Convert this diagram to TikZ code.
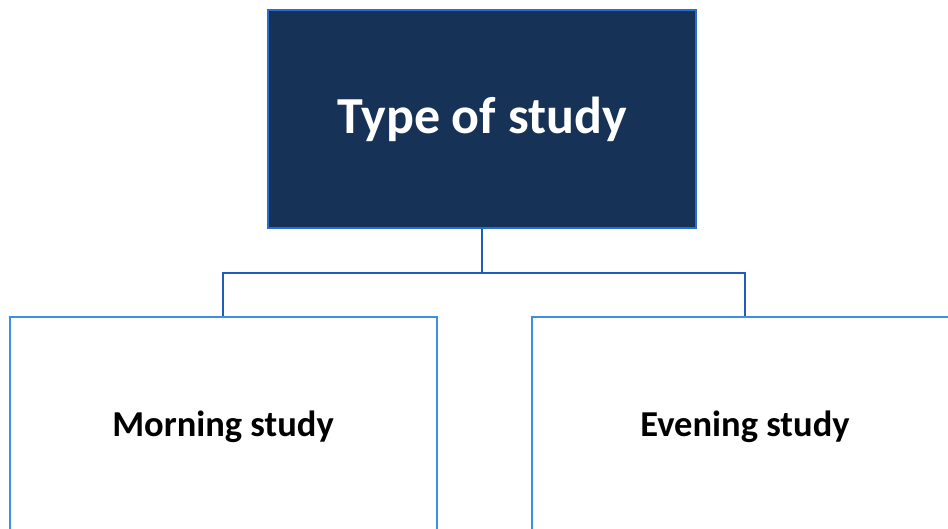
\documentclass[tikz,border=0pt]{standalone}
\usepackage{fontspec}
\setmainfont{Carlito}
\usetikzlibrary{trees}

\definecolor{navyfill}{RGB}{22,50,86}
\definecolor{navyedge}{RGB}{40,110,205}
\definecolor{leafedge}{RGB}{62,142,228}
\definecolor{linkblue}{RGB}{32,92,185}

\tikzset{
  headbox/.style={draw=navyedge, line width=2pt, fill=navyfill, text=white,
    minimum width=428pt, minimum height=218pt,
    font=\fontsize{52}{62}\selectfont\bfseries},
  leafbox/.style={draw=leafedge, line width=2pt, fill=white, text=black,
    minimum width=427pt, minimum height=220pt,
    font=\fontsize{36.5}{44}\selectfont\bfseries}
}

\begin{document}
\begin{tikzpicture}[%
    level distance=308pt,
    sibling distance=522pt,
    edge from parent/.style={draw=linkblue, line width=2pt},
    edge from parent path={
      (\tikzparentnode.south) -- ++(0,-44pt) -| (\tikzchildnode.north)
    }]
  \useasboundingbox (0,0) rectangle (948pt,-528pt);
  \clip (0,0) rectangle (948pt,-528pt);
  \node[headbox] (study) at (482pt,-119pt) {Type of study}
    child { node[leafbox, xshift=2pt] (morning) {Morning study}}
    child { node[leafbox, xshift=2pt] (evening) {Evening study}};
\end{tikzpicture}
\end{document}
